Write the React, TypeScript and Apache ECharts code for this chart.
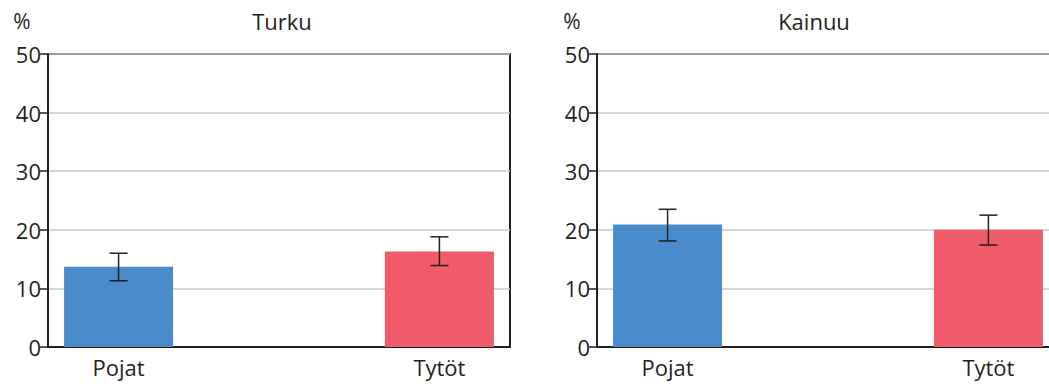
import React, { useEffect, useRef } from "react";
import * as echarts from "echarts";

const categories = ["Pojat", "Tytöt"];
const panelTitles = ["Turku", "Kainuu"];
const turkuValues = [13.7, 16.3];
const turkuLow = [11.3, 13.9];
const turkuHigh = [16.0, 18.8];
const kainuuValues = [20.9, 20.0];
const kainuuLow = [18.1, 17.4];
const kainuuHigh = [23.5, 22.5];
const yMin = 0;
const yMax = 50;
const yStep = 10;

const barColors = ["#4a8ccb", "#f05a6b"];
const dark = "#231f20";
const FONT = "Open Sans";

export default function App() {
  const ref = useRef<HTMLDivElement>(null);
  useEffect(() => {
    document.body.style.margin = "0";
    document.body.style.overflow = "hidden";
    document.documentElement.style.overflow = "hidden";
    const chart = echarts.init(ref.current!, undefined, { renderer: "svg" });
    const panels = [
      { left: 48, right: 549, values: turkuValues, low: turkuLow, high: turkuHigh, title: panelTitles[0], titleX: 282, pctX: 22 },
      { left: 597, right: 0, values: kainuuValues, low: kainuuLow, high: kainuuHigh, title: panelTitles[1], titleX: 814, pctX: 572 },
    ];
    const grid = panels.map((p) => ({
      left: p.left,
      right: p.right,
      top: 54,
      bottom: 39,
      show: true,
      borderColor: dark,
      borderWidth: 2,
      backgroundColor: "transparent",
    }));
    const xAxis = panels.map((_, i) => ({
      type: "value",
      gridIndex: i,
      min: -0.22,
      max: 1.22,
      axisLine: { show: true, onZero: false, lineStyle: { color: dark, width: 2 } },
      axisTick: { show: false },
      splitLine: { show: false },
      axisLabel: {
        customValues: [0, 1],
        formatter: (v: number) => categories[Math.round(v)] ?? "",
        color: dark,
        fontSize: 22,
        fontFamily: FONT,
        margin: 9,
      },
    }));
    const yAxis = panels.map((_, i) => ({
      type: "value",
      gridIndex: i,
      min: yMin,
      max: yMax,
      interval: yStep,
      axisLine: { show: true, onZero: false, lineStyle: { color: dark, width: 2 } },
      axisTick: { show: true, length: 8, lineStyle: { color: dark, width: 1.5 } },
      splitLine: { show: true, lineStyle: { color: "#c8c8c8", width: 1.5 } },
      axisLabel: { color: dark, fontSize: 22, fontFamily: FONT, margin: 7 },
    }));
    const series: any[] = [];
    panels.forEach((p, i) => {
      series.push({
        type: "bar",
        xAxisIndex: i,
        yAxisIndex: i,
        barWidth: 109,
        data: p.values.map((v, j) => ({ value: [j, v], itemStyle: { color: barColors[j] } })),
      });
      series.push({
        type: "custom",
        xAxisIndex: i,
        yAxisIndex: i,
        z: 10,
        encode: { x: 0, y: [1, 2] },
        data: p.values.map((_, j) => [j, p.low[j], p.high[j]]),
        renderItem: (params: any, api: any) => {
          const x = api.value(0);
          const lo = api.coord([x, api.value(1)]);
          const hi = api.coord([x, api.value(2)]);
          const hw = 9;
          const style = { stroke: dark, lineWidth: 1.5 };
          return {
            type: "group",
            children: [
              { type: "line", shape: { x1: hi[0], y1: hi[1], x2: lo[0], y2: lo[1] }, style },
              { type: "line", shape: { x1: hi[0] - hw, y1: hi[1], x2: hi[0] + hw, y2: hi[1] }, style },
              { type: "line", shape: { x1: lo[0] - hw, y1: lo[1], x2: lo[0] + hw, y2: lo[1] }, style },
            ],
          };
        },
      });
    });
    const graphic: any[] = [];
    panels.forEach((p) => {
      graphic.push({
        type: "text",
        x: p.titleX,
        y: 21,
        style: { text: p.title, align: "center", verticalAlign: "middle", fontSize: 22, fontFamily: FONT, fill: dark },
      });
      graphic.push({
        type: "text",
        x: p.pctX,
        y: 21,
        style: { text: "%", align: "center", verticalAlign: "middle", fontSize: 21, fontFamily: FONT, fill: dark },
      });
    });
    chart.setOption({
      animation: false,
      backgroundColor: "#ffffff",
      grid,
      xAxis,
      yAxis,
      series,
      graphic,
    } as any);
    return () => chart.dispose();
  }, []);
  return (
    <div style={{ width: 1049, height: 386, overflow: "hidden" }}>
      <div ref={ref} style={{ width: 1059, height: 386 }} />
    </div>
  );
}
